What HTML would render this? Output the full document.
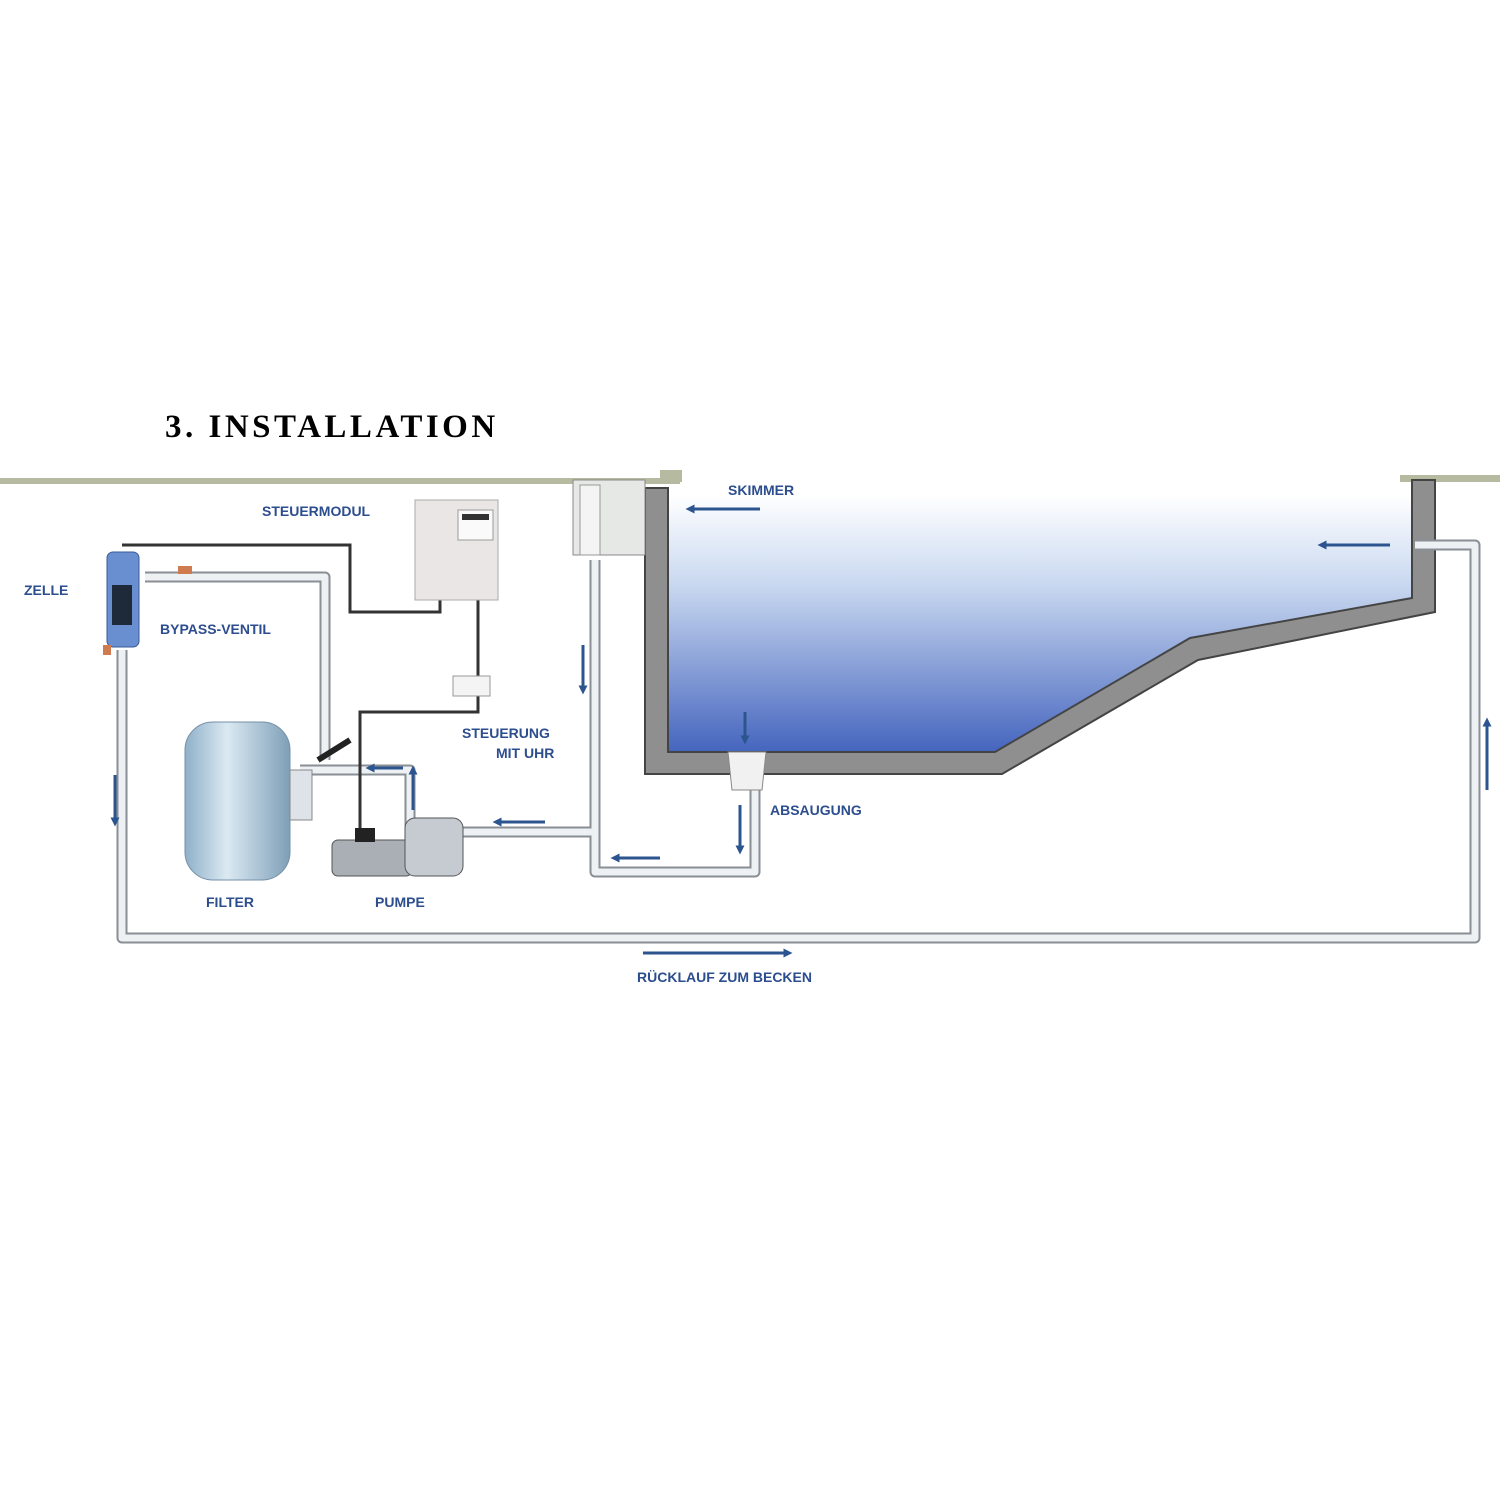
<!DOCTYPE html>
<html><head><meta charset="utf-8"><style>
body{margin:0;background:#fff}
svg{display:block}
.l{font-family:"Liberation Sans",sans-serif;font-weight:bold;font-size:14px;fill:#2c4d8e}
</style></head><body>
<svg width="1500" height="1500" viewBox="0 0 1500 1500">
<defs>
<linearGradient id="w" x1="0" y1="0" x2="0" y2="1">
<stop offset="0" stop-color="#ffffff"/><stop offset="0.35" stop-color="#c9d8f0"/><stop offset="1" stop-color="#4565be"/>
</linearGradient>
<linearGradient id="f" x1="0" y1="0" x2="1" y2="0">
<stop offset="0" stop-color="#8fb0c8"/><stop offset="0.4" stop-color="#dbe9f2"/><stop offset="1" stop-color="#7e9fb8"/>
</linearGradient>
<marker id="a" viewBox="0 0 10 10" refX="5" refY="5" markerWidth="3" markerHeight="3" orient="auto"><path d="M0,0L10,5L0,10z" fill="#2c5590"/></marker>
</defs>
<text x="165" y="437" font-family="Liberation Serif,serif" font-weight="bold" font-size="33" letter-spacing="3.5">3. INSTALLATION</text>
<!-- ground -->
<rect x="0" y="478" width="680" height="6" fill="#b5baa0"/>
<rect x="1400" y="475" width="100" height="7" fill="#b5baa0"/>
<!-- water -->
<polygon points="668,495 1412,495 1412,598 1190,638 995,752 668,752" fill="url(#w)"/>
<!-- wall -->
<polygon points="645,488 668,488 668,752 995,752 1190,638 1412,598 1412,480 1435,480 1435,612 1198,660 1002,774 645,774" fill="#8f8f8f" stroke="#444" stroke-width="2"/>
<!-- pipes -->
<g fill="none" stroke-linejoin="round">
<g stroke="#8a8f96" stroke-width="11">
<path d="M122,650V938H1475V545H1415"/>
<path d="M595,560V872H755V785"/>
<path d="M460,832H595"/>
<path d="M145,577H325V760"/>
<path d="M300,770H410V840"/>
</g>
<g stroke="#eef1f4" stroke-width="7">
<path d="M122,650V938H1475V545H1415"/>
<path d="M595,560V872H755V785"/>
<path d="M460,832H595"/>
<path d="M145,577H325V760"/>
<path d="M300,770H410V840"/>
</g>
</g>
<!-- wires -->
<g fill="none" stroke="#333" stroke-width="3">
<path d="M122,545H350V612H440V600"/>
<path d="M478,600V712H360V830"/>
</g>
<!-- skimmer -->
<rect x="573" y="480" width="72" height="75" fill="#e6e8e6" stroke="#888"/>
<rect x="580" y="485" width="20" height="70" fill="#f4f4f4" stroke="#999"/>
<rect x="660" y="470" width="22" height="12" fill="#b5baa0"/>
<!-- absaugung -->
<polygon points="728,752 766,752 762,790 732,790" fill="#f1f1f1" stroke="#888"/>
<!-- cell -->
<rect x="107" y="552" width="32" height="95" rx="6" fill="#6a8fd0" stroke="#3a5a9a"/>
<rect x="112" y="585" width="20" height="40" fill="#1e2a3a"/>
<rect x="103" y="645" width="8" height="10" fill="#d07a50"/>
<rect x="178" y="566" width="14" height="8" fill="#d07a50"/>
<!-- filter -->
<rect x="185" y="722" width="105" height="158" rx="28" fill="url(#f)" stroke="#7590a8"/>
<rect x="290" y="770" width="22" height="50" fill="#dde3e8" stroke="#888"/>
<path d="M318,760L350,740" stroke="#222" stroke-width="6"/>
<!-- pump -->
<rect x="332" y="840" width="80" height="36" rx="6" fill="#a9afb5" stroke="#555"/>
<rect x="355" y="828" width="20" height="14" fill="#222"/>
<rect x="405" y="818" width="58" height="58" rx="10" fill="#c5cbd0" stroke="#555"/>
<!-- control module -->
<rect x="415" y="500" width="83" height="100" fill="#ebe6e6" stroke="#aaa"/>
<rect x="458" y="510" width="35" height="30" fill="#fafafa" stroke="#999"/>
<rect x="462" y="514" width="27" height="6" fill="#333"/>
<rect x="453" y="676" width="37" height="20" fill="#f4f4f4" stroke="#999"/>
<!-- arrows -->
<g stroke="#2c5590" stroke-width="3" marker-end="url(#a)" fill="none">
<path d="M760,509H690"/><path d="M1390,545H1322"/>
<path d="M583,645V690"/><path d="M745,712V740"/><path d="M740,805V850"/>
<path d="M660,858H615"/><path d="M545,822H497"/>
<path d="M115,775V822"/><path d="M413,810V770"/><path d="M403,768H370"/>
<path d="M1487,790V722"/><path d="M643,953H788"/>
</g>
<!-- labels -->
<text class="l" x="262" y="516">STEUERMODUL</text>
<text class="l" x="24" y="595">ZELLE</text>
<text class="l" x="160" y="634">BYPASS-VENTIL</text>
<text class="l" x="462" y="738">STEUERUNG</text>
<text class="l" x="496" y="758">MIT UHR</text>
<text class="l" x="206" y="907">FILTER</text>
<text class="l" x="375" y="907">PUMPE</text>
<text class="l" x="728" y="495">SKIMMER</text>
<text class="l" x="770" y="815">ABSAUGUNG</text>
<text class="l" x="637" y="982">RÜCKLAUF ZUM BECKEN</text>
</svg>
</body></html>
